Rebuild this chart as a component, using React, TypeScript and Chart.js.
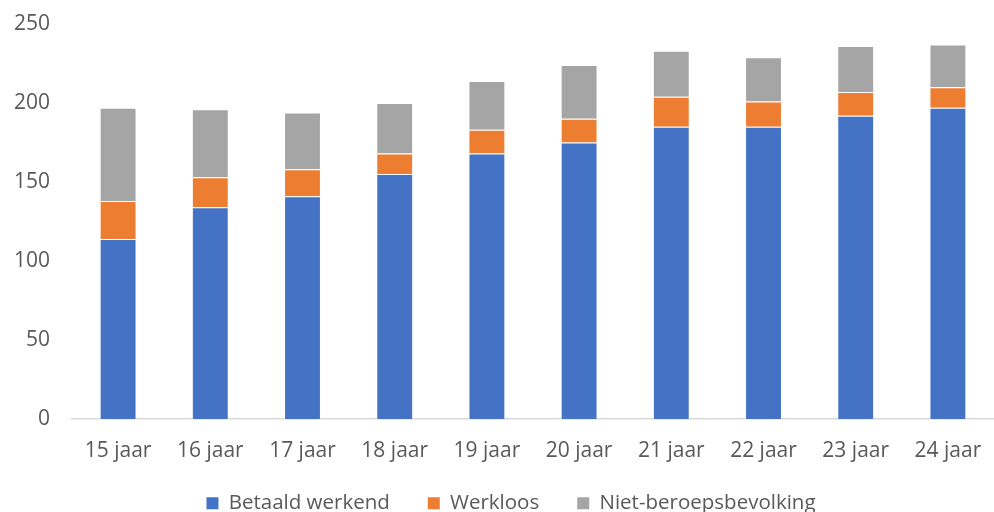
import React, { useEffect, useRef } from "react";
import { Chart, registerables } from "chart.js";

Chart.register(...registerables);

const categories = ["15 jaar", "16 jaar", "17 jaar", "18 jaar", "19 jaar", "20 jaar", "21 jaar", "22 jaar", "23 jaar", "24 jaar"];
const betaaldWerkend = [114, 134, 141, 155, 168, 175, 185, 185, 192, 197];
const werkloos = [24, 19, 17, 13, 15, 15, 19, 16, 15, 13];
const nietBeroepsbevolking = [59, 43, 36, 32, 31, 34, 29, 28, 29, 27];

const FONT = "'Open Sans', 'Noto Sans', sans-serif";
const TEXT = "#595959";
const EDGE = "rgba(255,255,255,0.45)";

const legendOffset = {
  id: "legendOffset",
  afterLayout(chart: any) {
    const l = chart.legend;
    if (l) {
      l.left += 14;
      l.right += 14;
    }
  },
};

export default function App() {
  const ref = useRef<HTMLCanvasElement>(null);
  useEffect(() => {
    document.body.style.margin = "0";
    const ctx = ref.current!;
    const chart = new Chart(ctx, {
      type: "bar",
      data: {
        labels: categories,
        datasets: [
          { label: "Betaald werkend", data: betaaldWerkend, backgroundColor: "#4472C4", borderColor: EDGE, borderWidth: 1 },
          { label: "Werkloos", data: werkloos, backgroundColor: "#ED7D31", borderColor: EDGE, borderWidth: 1 },
          { label: "Niet-beroepsbevolking", data: nietBeroepsbevolking, backgroundColor: "#A5A5A5", borderColor: EDGE, borderWidth: 1 },
        ],
      },
      plugins: [legendOffset],
      options: {
        animation: false,
        responsive: false,
        maintainAspectRatio: false,
        layout: { padding: { top: 24, right: 0, left: 0, bottom: 0 } },
        datasets: { bar: { barPercentage: 0.4, categoryPercentage: 1 } },
        plugins: {
          tooltip: { enabled: false },
          legend: {
            position: "bottom",
            maxHeight: 57,
            labels: {
              color: TEXT,
              font: { family: FONT, size: 20.5 },
              boxWidth: 12,
              boxHeight: 12,
              padding: 38,
              useBorderRadius: false,
              generateLabels: (c: any) =>
                Chart.defaults.plugins.legend.labels.generateLabels(c).map((it: any) => ({ ...it, lineWidth: 0 })),
            },
          },
        },
        scales: {
          x: {
            stacked: true,
            grid: { display: false, drawTicks: false },
            border: { display: true, color: "#D9D9D9", width: 1.5 },
            ticks: { color: TEXT, font: { family: FONT, size: 21 }, padding: 19, maxRotation: 0 },
            afterFit: (s: any) => {
              s.height = 36;
              s.paddingLeft = 0;
              s.paddingRight = 0;
              s._computeLabelArea = () => undefined;
            },
          },
          y: {
            stacked: true,
            min: 0,
            max: 250,
            grid: { display: false, drawTicks: false },
            border: { display: false },
            ticks: { stepSize: 50, color: TEXT, font: { family: FONT, size: 21 }, padding: 22 },
            afterFit: (s: any) => { s.width = 72; s.paddingTop = 0; s.paddingBottom = 0; },
          },
        },
      },
    });
    return () => chart.destroy();
  }, []);
  return (
    <div style={{ position: "absolute", left: 0, top: 0, width: 994, height: 512, background: "#fff" }}>
      <canvas ref={ref} width={994} height={512} style={{ width: 994, height: 512 }} />
    </div>
  );
}
